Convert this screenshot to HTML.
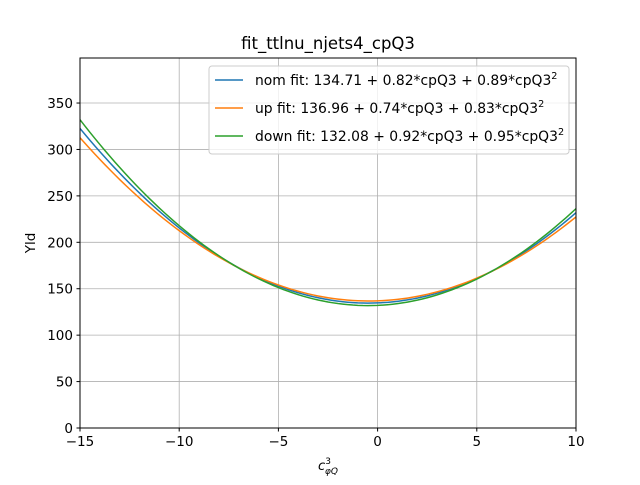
<!DOCTYPE html>
<html><head><meta charset="utf-8"><style>
body{margin:0;background:#fff}
svg text{font-family:"DejaVu Sans","Liberation Sans",sans-serif;fill:#000}
</style></head><body>
<svg id="chart" width="640" height="480" viewBox="0 0 640 480">
<rect width="640" height="480" fill="#fff"/>
<text x="328" y="49" font-size="16.5" text-anchor="middle">fit_ttlnu_njets4_cpQ3</text>
<g id="grid"></g>
<g id="ticks"></g>
<g id="series"></g>
<rect x="80" y="58" width="496" height="370" fill="none" stroke="#000" stroke-width="1"/>
<text x="328" y="470" font-size="13" text-anchor="middle" font-style="italic">c<tspan dy="-6" font-size="9" font-style="normal">3</tspan><tspan dx="-6" dy="10" font-size="9">φQ</tspan></text>
<text transform="translate(35,243) rotate(-90)" font-size="13.5" text-anchor="middle">Yld</text>
<g id="legend"></g>
</svg>
<script>
const xTicks=[-15,-10,-5,0,5,10];
const yTicks=[0,50,100,150,200,250,300,350];
const seriesNames=["nom","up","down"];
const seriesColors=["#1f77b4","#ff7f0e","#2ca02c"];
const coefA=[134.71,136.96,132.08];
const coefB=[0.82,0.74,0.92];
const coefC=[0.89,0.83,0.95];
const X0=80,X1=576,Y0=428,Y1=58,xmin=-15,xmax=10,ymin=0,ymax=398.5;
const sx=v=>X0+(v-xmin)/(xmax-xmin)*(X1-X0);
const sy=v=>Y0-(v-ymin)/(ymax-ymin)*(Y0-Y1);
const NS="http://www.w3.org/2000/svg";
function mk(t,a,p){const e=document.createElementNS(NS,t);for(const k in a)e.setAttribute(k,a[k]);p.appendChild(e);return e;}
const grid=document.getElementById('grid'),ticks=document.getElementById('ticks'),ser=document.getElementById('series'),leg=document.getElementById('legend');
xTicks.forEach(t=>{const x=sx(t);
const g=mk('line',{x1:x,x2:x,y1:Y1,y2:Y0,stroke:'#b0b0b0','stroke-width':0.8},grid);


mk('line',{x1:x,x2:x,y1:Y0,y2:Y0+3.5,stroke:'#000'},ticks);
const l=mk('text',{x:x,y:Y0+18,'font-size':13.5,'text-anchor':'middle'},ticks);l.textContent=t<0?'−'+(-t):t;

});
yTicks.forEach(t=>{const y=sy(t);
const g=mk('line',{x1:X0,x2:X1,y1:y,y2:y,stroke:'#b0b0b0','stroke-width':0.8},grid);


mk('line',{x1:X0-3.5,x2:X0,y1:y,y2:y,stroke:'#000'},ticks);
const l=mk('text',{x:X0-7,y:y+5,'font-size':13.5,'text-anchor':'end'},ticks);l.textContent=t;

});
seriesNames.forEach((n,i)=>{let d='';for(let k=0;k<=100;k++){const v=xmin+(xmax-xmin)*k/100;const y=coefA[i]+coefB[i]*v+coefC[i]*v*v;d+=(k?'L':'M')+sx(v).toFixed(2)+','+sy(y).toFixed(2);}
const p=mk('path',{d:d,fill:'none',stroke:seriesColors[i],'stroke-width':1.5},ser);

});
const box=mk('rect',{x:209,y:66,width:360,height:88,rx:3,fill:'#fff','fill-opacity':0.8,stroke:'#ccc'},leg);


seriesNames.forEach((n,i)=>{const y=80+28*i;
mk('line',{x1:215,x2:243,y1:y,y2:y,stroke:seriesColors[i],'stroke-width':1.5},leg);
const t=mk('text',{x:255,y:y+5,'font-size':13.9},leg);
t.innerHTML=n+' fit: '+coefA[i].toFixed(2)+' + '+coefB[i].toFixed(2)+'*cpQ3 + '+coefC[i].toFixed(2)+'*cpQ3<tspan dy="-6" font-size="9.7">2</tspan>';

});
</script>
</body></html>
